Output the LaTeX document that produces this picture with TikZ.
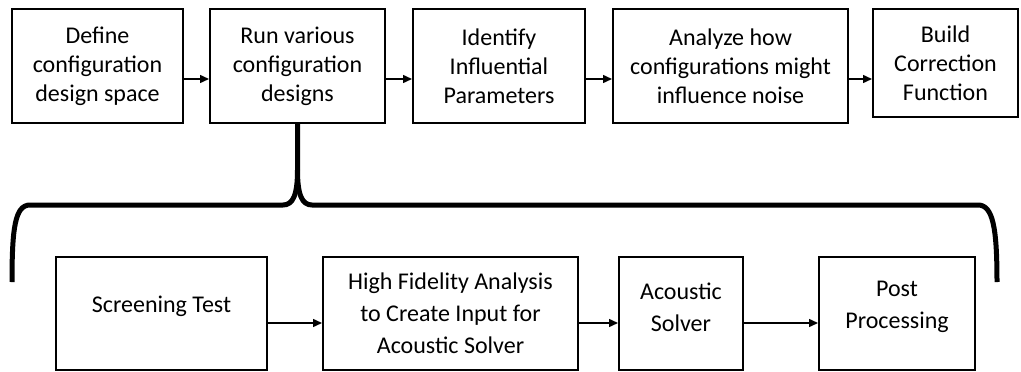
\documentclass[tikz,border=0pt]{standalone}
\usepackage{fontspec}
\setmainfont{Carlito}
\usetikzlibrary{arrows.meta}
\begin{document}
\begin{tikzpicture}[x=1pt,y=-1pt,
  box/.style={draw, line width=2pt, align=center, inner sep=0pt,
    font=\fontsize{24}{29}\selectfont},
  lowbox/.style={box, font=\fontsize{24}{32}\selectfont},
  flow/.style={line width=1.5pt, -{Triangle[length=9pt,width=8pt]}},
  brace/.style={line width=5pt, line cap=butt, line join=round}]
\useasboundingbox (0,0) rectangle (1021,372);

% main process chain
\node[box, minimum width=171pt, minimum height=114pt] (b1) at (97.5,66)
  {Define\\configuration\\design space};
\node[box, minimum width=175pt, minimum height=114pt] (b2) at (297.5,66)
  {Run various\\configuration\\designs};
\node[box, minimum width=172pt, minimum height=114pt] (b3) at (499,66)
  {Identify\\Influential\\Parameters};
\node[box, minimum width=235pt, minimum height=114pt] (b4) at (730.5,66)
  {Analyze how\\configurations might\\influence noise};
\node[box, minimum width=145pt, minimum height=108pt] (b5) at (945.5,63)
  {Build\\Correction\\Function};

\draw[flow] ([yshift=-13pt]b1.east) -- ([yshift=-13pt]b1.east -| b2.west);
\draw[flow] ([yshift=-13pt]b2.east) -- ([yshift=-13pt]b2.east -| b3.west);
\draw[flow] ([yshift=-13pt]b3.east) -- ([yshift=-13pt]b3.east -| b4.west);
\draw[flow] ([yshift=-13pt]b4.east) -- ([yshift=-13pt]b4.east -| b5.west);

% detailed steps of the configuration runs
\node[lowbox, minimum width=211pt, minimum height=113pt, text depth=19pt] (c1) at (161.5,313.5)
  {Screening Test};
\node[lowbox, minimum width=255pt, minimum height=113pt] (c2) at (450.5,313.5)
  {High Fidelity Analysis\\to Create Input for\\Acoustic Solver};
\node[lowbox, minimum width=124pt, minimum height=113pt, text depth=13pt] (c3) at (681,313.5)
  {Acoustic\\Solver};
\node[lowbox, minimum width=156pt, minimum height=113pt, text depth=18pt] (c4) at (897,313.5)
  {Post\\Processing};

\draw[flow] ([yshift=-9.5pt]c1.east) -- ([yshift=-9.5pt]c1.east -| c2.west);
\draw[flow] ([yshift=-9.5pt]c2.east) -- ([yshift=-9.5pt]c2.east -| c3.west);
\draw[flow] ([yshift=-9.5pt]c3.east) -- ([yshift=-9.5pt]c3.east -| c4.west);

% brace expanding the second step
\coordinate (bl) at (12,282);
\coordinate (br) at (997,282);
\draw[brace] (bl) .. controls (12,228) and (15,205) .. (30,205)
  -- (283,205) .. controls (293,205) and (297.5,195) .. (297.5,170)
  -- (b2.south);
\draw[brace] (br) .. controls (997,228) and (993,205) .. (978,205)
  -- (312,205) .. controls (302,205) and (297.5,195) .. (297.5,170);
\end{tikzpicture}
\end{document}
